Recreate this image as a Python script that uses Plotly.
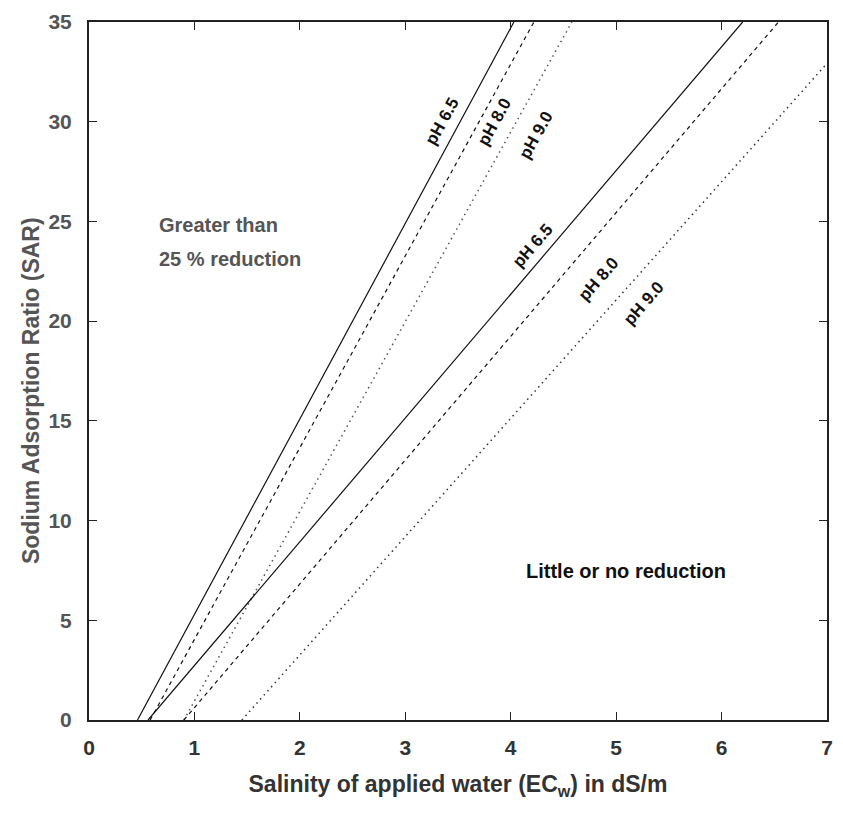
import plotly.graph_objects as go

# Line endpoints (EC_w in dS/m, SAR)
steep_ph65_x = [0.46, 4.03]
steep_ph80_x = [0.58, 4.22]
steep_ph90_x = [0.90, 4.58]
shallow_ph65_x = [0.56, 6.20]
shallow_ph80_x = [0.90, 6.54]
shallow_ph90_x = [1.45, 7.35]
sar_y = [0, 35]

# Label positions (x, y)
label_text = ["pH 6.5", "pH 8.0", "pH 9.0", "pH 6.5", "pH 8.0", "pH 9.0"]
label_x = [3.35, 3.85, 4.24, 4.21, 4.83, 5.26]
label_y = [30.0, 30.0, 29.3, 23.8, 22.1, 20.9]
label_angle = [-61, -61, -61, -49, -49, -49]

x_ticks = [0, 1, 2, 3, 4, 5, 6, 7]
y_ticks = [0, 5, 10, 15, 20, 25, 30, 35]

W, H = 843, 813
L, R, T, B = 89, 11, 10, 93

fig = go.Figure()

def add_line(xs, dash, color, width=1.2):
    fig.add_trace(go.Scatter(x=xs, y=sar_y, mode="lines",
                             line=dict(color=color, width=width, dash=dash),
                             showlegend=False, hoverinfo="skip"))

add_line(steep_ph65_x, "solid", "#111")
add_line(steep_ph80_x, "4px,4px", "#111")
add_line(steep_ph90_x, "1.5px,4px", "#555", 1.5)
add_line(shallow_ph65_x, "solid", "#111")
add_line(shallow_ph80_x, "4px,4px", "#111")
add_line(shallow_ph90_x, "1.5px,4px", "#333", 1.5)

font_main = "Liberation Sans, Arial, sans-serif"

for t, x, y, a in zip(label_text, label_x, label_y, label_angle):
    fig.add_annotation(x=x, y=y, text="<b>%s</b>" % t, textangle=a,
                       showarrow=False, font=dict(size=17, color="#111", family=font_main))

def px_to_paper(px, py):
    return (px - L) / (W - L - R), 1 - (py - T) / (H - T - B)

gx, gy = px_to_paper(157, 203)
fig.add_annotation(x=gx, y=gy, xref="paper", yref="paper", xanchor="left",
                   text="<b>Greater than</b>", showarrow=False,
                   font=dict(size=20, color="#555", family=font_main))
gx, gy = px_to_paper(157, 238)
fig.add_annotation(x=gx, y=gy, xref="paper", yref="paper", xanchor="left",
                   text="<b>25 % reduction</b>", showarrow=False,
                   font=dict(size=20, color="#555", family=font_main))
lx, ly = px_to_paper(527, 582)
fig.add_annotation(x=lx, y=ly, xref="paper", yref="paper", xanchor="left",
                   text="<b>Little or no reduction</b>", showarrow=False,
                   font=dict(size=20, color="#111", family=font_main))

# y-axis title
tx, ty = px_to_paper(30, 385)
fig.add_annotation(x=tx, y=ty, xref="paper", yref="paper", xanchor="center", yanchor="middle",
                   text="<b>Sodium Adsorption Ratio (SAR)</b>", textangle=-90, showarrow=False,
                   font=dict(size=23, color="#555", family=font_main))

fig.update_layout(
    width=W, height=H,
    margin=dict(l=L, r=R, t=T, b=B),
    paper_bgcolor="white", plot_bgcolor="white",
    font=dict(family=font_main),
    xaxis=dict(range=[0, 7], tickvals=x_ticks, ticks="inside", ticklen=8,
               tickcolor="#222", tickwidth=1.2, mirror="ticks", showline=True,
               linecolor="#222", linewidth=2, showgrid=False, zeroline=False,
               ticklabelstandoff=8,
               tickfont=dict(size=21, color="#333", family=font_main, weight="bold"),
               title=dict(text="<b>Salinity of applied water (EC<sub>w</sub>) in dS/m</b>",
                          font=dict(size=23, color="#333", family=font_main), standoff=18)),
    yaxis=dict(range=[0, 35], tickvals=y_ticks, ticks="inside", ticklen=8,
               tickcolor="#222", tickwidth=1.2, mirror="ticks", showline=True,
               linecolor="#222", linewidth=2, showgrid=False, zeroline=False,
               ticklabelstandoff=11,
               tickfont=dict(size=21, color="#555", family=font_main, weight="bold")),
)

fig.write_html("out.html")
